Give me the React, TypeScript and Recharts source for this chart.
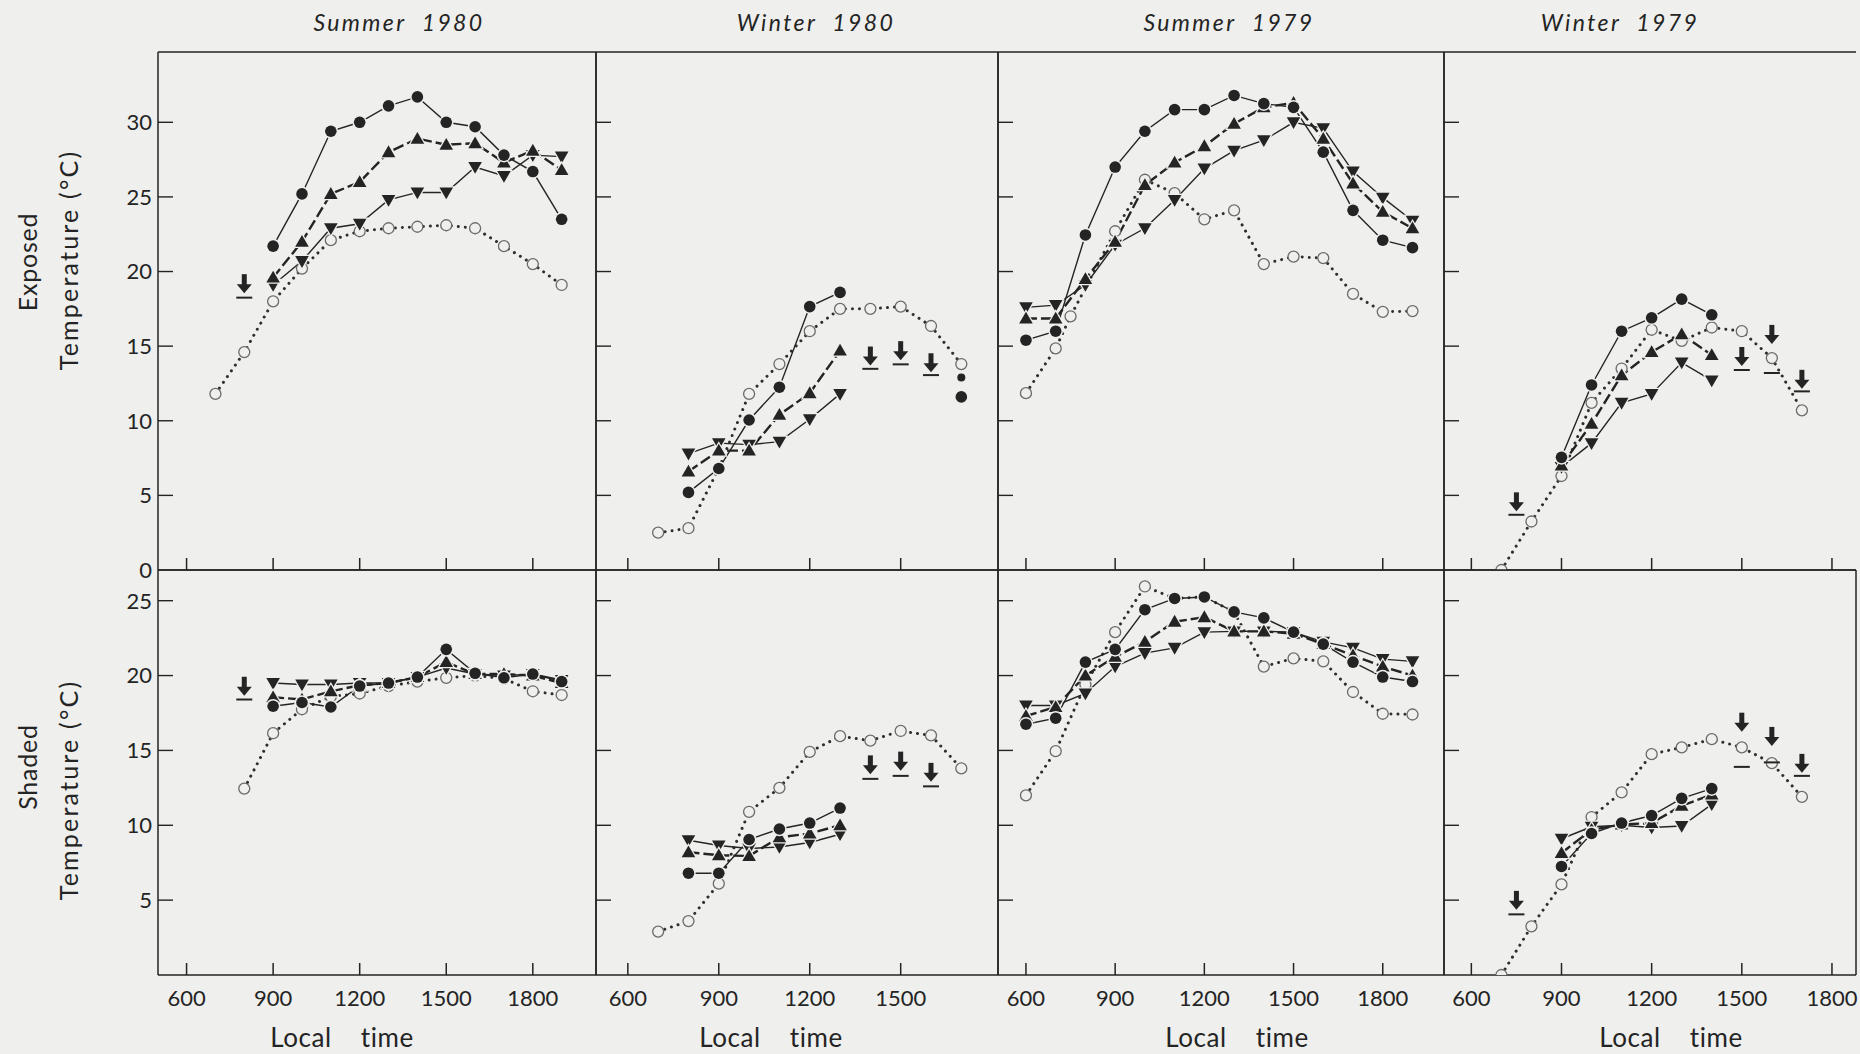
import React from 'react';
import { ComposedChart, Line, XAxis, YAxis, ReferenceLine } from 'recharts';

const BG = '#efefed';
const INK = '#242424';
const FONT = 'Lato, "Noto Sans", "DejaVu Sans", sans-serif';

// ---------------- data ----------------
type S = (number | null)[];
const _ = null;

// Summer 1980 – exposed
const s80eTimes = [700, 800, 900, 1000, 1100, 1200, 1300, 1400, 1500, 1600, 1700, 1800, 1900];
const s80eFilled: S = [_, _, 21.7, 25.2, 29.4, 30.0, 31.1, 31.7, 30.0, 29.7, 27.8, 26.7, 23.5];
const s80eUp: S = [_, _, 19.6, 22.0, 25.2, 26.0, 28.0, 28.9, 28.5, 28.6, 27.3, 28.1, 26.8];
const s80eDown: S = [_, _, 19.1, 20.7, 22.9, 23.2, 24.8, 25.3, 25.3, 27.0, 26.4, 27.8, 27.7];
const s80eOpen: S = [11.8, 14.6, 18.0, 20.2, 22.1, 22.7, 22.9, 23.0, 23.1, 22.9, 21.7, 20.5, 19.1];
const s80eArrowTip: S = [_, 18.55, _, _, _, _, _, _, _, _, _, _, _];
const s80eArrowBar: S = [_, 18.25, _, _, _, _, _, _, _, _, _, _, _];

// Winter 1980 – exposed
const w80eTimes = [700, 800, 900, 1000, 1100, 1200, 1300, 1400, 1500, 1600, 1700];
const w80eFilled: S = [_, 5.2, 6.8, 10.05, 12.25, 17.65, 18.6, _, _, _, _];
const w80eUp: S = [_, 6.6, 8.0, 8.0, 10.4, 11.85, 14.7, _, _, _, _];
const w80eDown: S = [_, 7.8, 8.5, 8.4, 8.6, 10.1, 11.8, _, _, _, _];
const w80eOpen: S = [2.5, 2.8, 6.8, 11.8, 13.8, 16.0, 17.5, 17.5, 17.65, 16.35, 13.8];
const w80eLoneFilled: S = [_, _, _, _, _, _, _, _, _, _, 11.6];
const w80eSmallDot: S = [_, _, _, _, _, _, _, _, _, _, 12.9];
const w80eArrowTip: S = [_, _, _, _, _, _, _, 13.7, 14.06, 13.25, _];
const w80eArrowBar: S = [_, _, _, _, _, _, _, 13.48, 13.78, 13.06, _];

// Summer 1979 – exposed
const s79eTimes = [600, 700, 750, 800, 900, 1000, 1100, 1200, 1300, 1400, 1500, 1600, 1700, 1800, 1900];
const s79eFilled: S = [15.4, 16.0, _, 22.45, 27.0, 29.4, 30.85, 30.85, 31.8, 31.25, 31.0, 28.0, 24.1, 22.1, 21.6];
const s79eUp: S = [16.85, 16.85, _, 19.5, 22.0, 25.8, 27.3, 28.4, 29.9, 31.0, 31.3, 28.9, 25.9, 24.0, 22.9];
const s79eDown: S = [17.6, 17.75, _, 19.1, 21.8, 22.9, 24.8, 26.9, 28.1, 28.8, 30.0, 29.6, 26.7, 24.95, 23.4];
const s79eOpen: S = [11.85, 14.85, 17.0, _, 22.7, 26.15, 25.25, 23.5, 24.1, 20.5, 21.0, 20.9, 18.5, 17.3, 17.35];

// Winter 1979 – exposed
const w79eTimes = [700, 750, 800, 900, 1000, 1100, 1200, 1300, 1400, 1500, 1600, 1700];
const w79eFilled: S = [_, _, _, 7.55, 12.4, 16.0, 16.9, 18.15, 17.1, _, _, _];
const w79eUp: S = [_, _, _, 7.0, 9.8, 13.05, 14.6, 15.8, 14.4, _, _, _];
const w79eDown: S = [_, _, _, 6.9, 8.5, 11.2, 11.8, 13.9, 12.7, _, _, _];
const w79eOpen: S = [0.0, _, 3.25, 6.3, 11.2, 13.5, 16.1, 15.35, 16.25, 16.0, 14.2, 10.7];
const w79eArrowTip: S = [_, 3.93, _, _, _, _, _, _, _, 13.67, 15.15, 12.14];
const w79eArrowBar: S = [_, 3.7, _, _, _, _, _, _, _, 13.4, 13.2, 11.97];

// Summer 1980 – shaded
const s80sTimes = [800, 900, 1000, 1100, 1200, 1300, 1400, 1500, 1600, 1700, 1800, 1900];
const s80sFilled: S = [_, 17.95, 18.2, 17.9, 19.3, 19.5, 19.9, 21.75, 20.15, 19.85, 20.1, 19.6];
const s80sUp: S = [_, 18.55, 18.4, 18.95, 19.35, 19.5, 19.9, 20.9, 20.1, 20.1, 20.0, 19.5];
const s80sDown: S = [_, 19.5, 19.4, 19.4, 19.5, 19.5, 19.9, 20.5, 20.1, 20.0, 20.1, 19.7];
const s80sOpen: S = [12.45, 16.15, 17.75, 18.6, 18.8, 19.3, 19.6, 19.85, 20.0, 19.8, 18.95, 18.7];
const s80sArrowTip: S = [18.65, _, _, _, _, _, _, _, _, _, _, _];
const s80sArrowBar: S = [18.4, _, _, _, _, _, _, _, _, _, _, _];

// Winter 1980 – shaded
const w80sTimes = [700, 800, 900, 1000, 1100, 1200, 1300, 1400, 1500, 1600, 1700];
const w80sFilled: S = [_, 6.8, 6.8, 9.05, 9.75, 10.15, 11.15, _, _, _, _];
const w80sUp: S = [_, 8.2, 8.0, 7.95, 9.2, 9.45, 10.0, _, _, _, _];
const w80sDown: S = [_, 9.0, 8.65, 8.45, 8.55, 8.85, 9.4, _, _, _, _];
const w80sOpen: S = [2.9, 3.6, 6.1, 10.9, 12.5, 14.9, 15.95, 15.65, 16.3, 16.0, 13.8];
const w80sArrowTip: S = [_, _, _, _, _, _, _, 13.4, 13.65, 12.9, _];
const w80sArrowBar: S = [_, _, _, _, _, _, _, 13.1, 13.3, 12.6, _];

// Summer 1979 – shaded
const s79sTimes = [600, 700, 800, 900, 1000, 1100, 1200, 1300, 1400, 1500, 1600, 1700, 1800, 1900];
const s79sFilled: S = [16.75, 17.15, 20.9, 21.75, 24.4, 25.15, 25.25, 24.25, 23.85, 22.9, 22.1, 20.9, 19.9, 19.6];
const s79sUp: S = [17.3, 17.9, 20.0, 21.25, 22.25, 23.6, 23.9, 22.95, 22.95, 22.8, 22.1, 21.35, 20.6, 20.0];
const s79sDown: S = [18.0, 18.0, 18.8, 20.6, 21.5, 21.85, 22.9, 22.95, 22.95, 22.9, 22.25, 21.85, 21.1, 20.95];
const s79sOpen: S = [12.0, 14.95, 19.4, 22.9, 25.95, 25.15, 25.25, 24.25, 20.6, 21.15, 20.95, 18.9, 17.45, 17.4];

// Winter 1979 – shaded
const w79sTimes = [700, 750, 800, 900, 1000, 1100, 1200, 1300, 1400, 1500, 1600, 1700];
const w79sFilled: S = [_, _, _, 7.25, 9.45, 10.15, 10.65, 11.8, 12.45, _, _, _];
const w79sUp: S = [_, _, _, 8.15, 9.7, 10.05, 10.15, 11.3, 12.05, _, _, _];
const w79sDown: S = [_, _, _, 9.1, 9.9, 10.0, 9.85, 9.95, 11.4, _, _, _];
const w79sOpen: S = [0.0, _, 3.25, 6.05, 10.55, 12.2, 14.75, 15.2, 15.75, 15.2, 14.15, 11.9];
const w79sArrowTip: S = [_, 4.35, _, _, _, _, _, _, _, 16.25, 15.3, 13.5];
const w79sArrowBar: S = [_, 4.05, _, _, _, _, _, _, _, 13.9, 14.2, 13.3];

// axis ticks / labels
const xTicksFull = [600, 900, 1200, 1500, 1800];
const xTicksShort = [600, 900, 1200, 1500];
const yTicksTop = [0, 5, 10, 15, 20, 25, 30];
const yTicksBottom = [5, 10, 15, 20, 25];
const columnTitles = ['Summer  1980', 'Winter  1980', 'Summer  1979', 'Winter  1979'];

// ---------------- helpers ----------------
function buildRows(times: number[], cols: Record<string, S>) {
  return times.map((t, i) => {
    const r: any = { t };
    Object.keys(cols).forEach((k) => {
      r[k] = cols[k][i] ?? null;
    });
    return r;
  });
}

const COLS: [number, number][] = [[158, 596], [596, 998], [998, 1444], [1444, 1856]];
const ROWS: [number, number][] = [[52, 570], [570, 975]];
const Y_DOMAINS: [number, number][] = [[0, 34.71], [0, 27.05]];
const X_DOMAINS: [number, number][] = [[501, 2019], [495, 1821], [506, 2006], [509, 1880]];
const LABEL_SHIFT = [-35, -26, 16, 21];
const Y_TICK_LEN = 15;
const X_TICK_LEN = 12;

const PANELS = [
  { row: 0, col: 0, xTicks: xTicksFull, rows: buildRows(s80eTimes, { filled: s80eFilled, up: s80eUp, down: s80eDown, open: s80eOpen, arrowTip: s80eArrowTip, arrowBar: s80eArrowBar }) },
  { row: 0, col: 1, xTicks: xTicksShort, rows: buildRows(w80eTimes, { filled: w80eFilled, up: w80eUp, down: w80eDown, open: w80eOpen, lone: w80eLoneFilled, small: w80eSmallDot, arrowTip: w80eArrowTip, arrowBar: w80eArrowBar }) },
  { row: 0, col: 2, xTicks: xTicksFull, rows: buildRows(s79eTimes, { filled: s79eFilled, up: s79eUp, down: s79eDown, open: s79eOpen }) },
  { row: 0, col: 3, xTicks: xTicksFull, noRight: true, rows: buildRows(w79eTimes, { filled: w79eFilled, up: w79eUp, down: w79eDown, open: w79eOpen, arrowTip: w79eArrowTip, arrowBar: w79eArrowBar }) },
  { row: 1, col: 0, xTicks: xTicksFull, rows: buildRows(s80sTimes, { filled: s80sFilled, up: s80sUp, down: s80sDown, open: s80sOpen, arrowTip: s80sArrowTip, arrowBar: s80sArrowBar }) },
  { row: 1, col: 1, xTicks: xTicksShort, rows: buildRows(w80sTimes, { filled: w80sFilled, up: w80sUp, down: w80sDown, open: w80sOpen, arrowTip: w80sArrowTip, arrowBar: w80sArrowBar }) },
  { row: 1, col: 2, xTicks: xTicksFull, rows: buildRows(s79sTimes, { filled: s79sFilled, up: s79sUp, down: s79sDown, open: s79sOpen }) },
  { row: 1, col: 3, xTicks: xTicksFull, rows: buildRows(w79sTimes, { filled: w79sFilled, up: w79sUp, down: w79sDown, open: w79sOpen, arrowTip: w79sArrowTip, arrowBar: w79sArrowBar }) },
];

// ---------------- marks ----------------
const ok = (p: any) => p && p.cx != null && p.cy != null && p.value != null && !Number.isNaN(p.cy);
const empty = (p: any, s: string) => <g key={`${s}${p && p.index}`} />;

const FilledDot = (p: any) =>
  ok(p) ? (
    <circle key={`f${p.index}`} cx={p.cx} cy={p.cy} r={5.8} fill={INK} stroke={BG} strokeWidth={3} style={{ paintOrder: 'stroke' }} />
  ) : empty(p, 'f');

const OpenDot = (p: any) =>
  ok(p) ? (
    <circle key={`o${p.index}`} cx={p.cx} cy={p.cy} r={5.5} fill={BG} stroke="#6b6b6b" strokeWidth={1.3} />
  ) : empty(p, 'o');

const UpDot = (p: any) =>
  ok(p) ? (
    <polygon
      key={`u${p.index}`}
      points={`${p.cx},${p.cy - 6.8} ${p.cx + 6.8},${p.cy + 5} ${p.cx - 6.8},${p.cy + 5}`}
      fill={INK}
      stroke={BG}
      strokeWidth={2.5}
      style={{ paintOrder: 'stroke' }}
    />
  ) : empty(p, 'u');

const DownDot = (p: any) =>
  ok(p) ? (
    <polygon
      key={`d${p.index}`}
      points={`${p.cx},${p.cy + 6.8} ${p.cx + 6.8},${p.cy - 5} ${p.cx - 6.8},${p.cy - 5}`}
      fill={INK}
      stroke={BG}
      strokeWidth={2.5}
      style={{ paintOrder: 'stroke' }}
    />
  ) : empty(p, 'd');

const SmallDot = (p: any) =>
  ok(p) ? <circle key={`s${p.index}`} cx={p.cx} cy={p.cy} r={4} fill={INK} /> : empty(p, 's');

const ArrowDot = (p: any) =>
  ok(p) ? (
    <g key={`a${p.index}`}>
      <rect x={p.cx - 2.5} y={p.cy - 19} width={5} height={11} fill={INK} />
      <polygon points={`${p.cx - 7.5},${p.cy - 9} ${p.cx + 7.5},${p.cy - 9} ${p.cx},${p.cy}`} fill={INK} />
    </g>
  ) : empty(p, 'a');

const BarDot = (p: any) =>
  ok(p) ? (
    <line key={`b${p.index}`} x1={p.cx - 8} x2={p.cx + 8} y1={p.cy} y2={p.cy} stroke={INK} strokeWidth={2} />
  ) : empty(p, 'b');

// ---------------- axes ----------------
const LocalTime = (props: any) => {
  const vb = props.viewBox || {};
  const cx = vb.x + vb.width / 2 + (props.shift || 0);
  return (
    <text x={cx} y={vb.y + 72} textAnchor="middle" fontSize={26} fill={INK} fontFamily={FONT} letterSpacing={0.6} style={{ whiteSpace: 'pre' }}>
      {'Local    time'}
    </text>
  );
};

const tickFont = { fontSize: 22, fill: INK, fontFamily: FONT };
const axisStyle = { stroke: INK, strokeWidth: 1.5 };

function Panel({ cfg }: { cfg: any }) {
  const [x0, x1] = COLS[cfg.col];
  const [y0, y1] = ROWS[cfg.row];
  const first = cfg.col === 0;
  const bottomRow = cfg.row === 1;
  const left = first ? 0 : x0 - 1;
  const yAxisW = first ? x0 : 1;
  const width = x1 + 1 - left;
  const xAxisH = bottomRow ? 79 : 1;
  const top = y0 - 1;
  const height = 1 + (y1 - y0) + xAxisH;
  const yDomain = Y_DOMAINS[cfg.row];
  const xDomain = X_DOMAINS[cfg.col];
  const yTicks = bottomRow ? yTicksBottom : yTicksTop;
  const xUnitsPerPx = (xDomain[1] - xDomain[0]) / (x1 - x0);
  const yTickLen = Y_TICK_LEN * xUnitsPerPx;
  const common = { isAnimationActive: false, activeDot: false as any, connectNulls: true, type: 'linear' as const, legendType: 'none' as const };
  return (
    <div style={{ position: 'absolute', left, top, width, height }}>
      <ComposedChart width={width} height={height} data={cfg.rows} margin={{ top: 0, right: 0, bottom: 0, left: 0 }}>
        <XAxis
          dataKey="t"
          type="number"
          domain={xDomain}
          allowDataOverflow
          ticks={cfg.xTicks}
          interval={0}
          height={xAxisH}
          tickSize={0}
          tickMargin={15}
          tickLine={false}
          axisLine={axisStyle}
          tick={bottomRow ? tickFont : false}
          label={bottomRow ? <LocalTime shift={LABEL_SHIFT[cfg.col]} /> : undefined}
        />
        <XAxis xAxisId="top" orientation="top" dataKey="t" type="number" domain={xDomain} allowDataOverflow height={1} tick={false} tickLine={false} axisLine={axisStyle} />
        <YAxis
          type="number"
          domain={yDomain}
          allowDataOverflow
          ticks={yTicks}
          interval={0}
          width={yAxisW}
          tickSize={0}
          tickMargin={6}
          tickLine={false}
          axisLine={axisStyle}
          tick={first ? tickFont : false}
        />
        <YAxis
          yAxisId="right"
          orientation="right"
          type="number"
          domain={yDomain}
          allowDataOverflow
          width={1}
          tick={false}
          tickLine={false}
          axisLine={cfg.noRight ? false : axisStyle}
        />
        {yTicks.filter((v) => v > yDomain[0]).map((v) => (
          <ReferenceLine
            key={`yt${v}`}
            segment={[{ x: xDomain[0], y: v }, { x: xDomain[0] + yTickLen, y: v }]}
            stroke={INK}
            strokeWidth={1.4}
            ifOverflow="visible"
          />
        ))}
        <Line {...common} dataKey="open" stroke="#2e2e2e" strokeWidth={3} strokeDasharray="0.01 7" strokeLinecap="round" dot={OpenDot} />
        <Line {...common} dataKey="down" stroke={INK} strokeWidth={1.4} dot={DownDot} />
        <Line {...common} dataKey="up" stroke={INK} strokeWidth={2.4} strokeDasharray="11 4" dot={UpDot} />
        <Line {...common} dataKey="filled" stroke={INK} strokeWidth={1.4} dot={FilledDot} />
        <Line {...common} dataKey="lone" stroke="none" dot={FilledDot} />
        <Line {...common} dataKey="small" stroke="none" dot={SmallDot} />
        <Line {...common} dataKey="arrowTip" stroke="none" dot={ArrowDot} />
        <Line {...common} dataKey="arrowBar" stroke="none" dot={BarDot} />
      </ComposedChart>
    </div>
  );
}

// inward tick marks of the time axes, placed with the same linear mapping as the panel axes
function TimeTickOverlay() {
  const marks: React.ReactNode[] = [];
  PANELS.forEach((p) => {
    const [x0, x1] = COLS[p.col];
    const [, y1] = ROWS[p.row];
    const [d0, d1] = X_DOMAINS[p.col];
    p.xTicks.forEach((t: number) => {
      const px = x0 + ((t - d0) / (d1 - d0)) * (x1 - x0);
      marks.push(<rect key={`${p.row}-${p.col}-${t}`} x={px - 0.75} y={y1 - X_TICK_LEN} width={1.5} height={X_TICK_LEN} fill={INK} />);
    });
  });
  return (
    <svg width={1860} height={1054} style={{ position: 'absolute', left: 0, top: 0, pointerEvents: 'none' }}>
      {marks}
    </svg>
  );
}

const TITLE_X = [399, 816, 1229, 1620];

function RotLabel({ text, cx, cy, spacing }: { text: string; cx: number; cy: number; spacing: number }) {
  return (
    <div
      style={{
        position: 'absolute',
        left: cx,
        top: cy,
        transform: 'translate(-50%, -50%) rotate(-90deg)',
        whiteSpace: 'nowrap',
        fontSize: 25,
        fontFamily: FONT,
        color: INK,
        letterSpacing: spacing,
        lineHeight: 1,
      }}
    >
      {text}
    </div>
  );
}

export default function App() {
  return (
    <div style={{ position: 'absolute', left: 0, top: 0, width: 1860, height: 1054, background: BG, overflow: 'hidden', fontFamily: FONT }}>
      <style>{'.recharts-surface{overflow:visible}'}</style>
      {columnTitles.map((t, i) => (
        <div
          key={t}
          style={{
            position: 'absolute',
            left: TITLE_X[i],
            top: 22,
            transform: 'translate(-50%, -50%)',
            whiteSpace: 'pre',
            fontStyle: 'italic',
            fontSize: 23,
            letterSpacing: 2.4,
            color: INK,
            lineHeight: 1,
          }}
        >
          {t}
        </div>
      ))}
      <RotLabel text="Exposed" cx={27} cy={262} spacing={0.8} />
      <RotLabel text="Temperature (°C)" cx={68} cy={260} spacing={2.2} />
      <RotLabel text="Shaded" cx={27} cy={767} spacing={0.8} />
      <RotLabel text="Temperature (°C)" cx={68} cy={790} spacing={2.2} />
      {PANELS.map((p) => (
        <Panel key={`${p.row}-${p.col}`} cfg={p} />
      ))}
      <TimeTickOverlay />
    </div>
  );
}
